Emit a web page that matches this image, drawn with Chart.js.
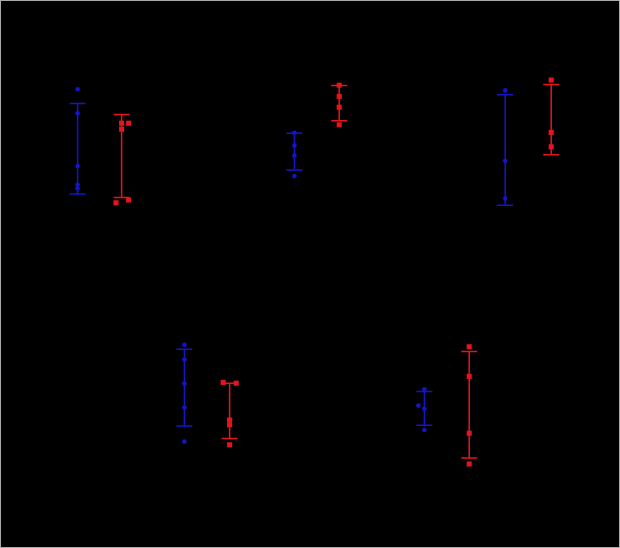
<!DOCTYPE html>
<html>
<head>
<meta charset="utf-8">
<script src="https://cdn.jsdelivr.net/npm/chart.js@4/dist/chart.umd.min.js"></script>
<style>
  html, body { margin: 0; padding: 0; background: #000; }
  #wrap { position: relative; width: 620px; height: 548px; background: #000; }
  canvas { display: block; }
</style>
</head>
<body>
<div id="wrap"><canvas id="c" width="620" height="548"></canvas></div>
<script>
// ---- data (arbitrary units) ----
const groups = ['G1', 'G2', 'G3', 'G4', 'G5'];
const seriesNames = ['Blue', 'Red'];

const blueValues = [
  [114.7, 108.7, 95.5, 90.8, 89.9],
  [103.8, 100.6, 98.1, 93.0],
  [114.4, 96.8, 87.4],
  [50.8, 47.1, 41.1, 35.1, 26.6],
  [39.7, 35.6, 34.8, 29.5]
];
const redValues = [
  [106.2, 106.2, 104.7, 86.3, 87.0],
  [115.7, 112.9, 110.2, 105.8],
  [117.0, 103.9, 100.3],
  [41.4, 41.2, 32.0, 30.8, 25.8],
  [50.3, 42.9, 28.7, 21.0]
];
const blueMean = [99.8, 99.1, 99.5, 40.1, 34.9];
const blueSD   = [11.3, 4.6, 13.8, 9.6, 4.2];
const redMean  = [98.0, 111.2, 107.1, 34.3, 35.8];
const redSD    = [10.4, 4.4, 8.8, 6.9, 13.3];

// ---- layout (x position of each group on the hidden linear x axis) ----
const blueX = [19.4, 73.6, 126.3, 46.1, 106.1];
const redX  = [30.4, 84.8, 137.8, 57.4, 117.3];
const blueJitter = [[0,0,0,0,0],[0,0,0,0],[0,0,0],[0,0,0,0,0],[0,-1.5,0,0]];
const redJitter  = [[0,1.75,0,-1.4,1.75],[0,0,0,0],[0,0,0],[-1.6,1.65,0,0,0],[0,0,0,0]];

const BLUE = 'rgb(20,20,205)';
const RED = 'rgb(230,20,30)';

function pts(vals, xs, jit) {
  const out = [];
  vals.forEach((arr, g) => arr.forEach((v, i) => out.push({x: xs[g] + jit[g][i], y: v})));
  return out;
}

const errorBars = {
  id: 'errorBars',
  beforeDatasetsDraw(chart) {
    const {ctx, scales: {x, y}} = chart;
    const draw = (xs, means, sds, color) => {
      ctx.save();
      ctx.strokeStyle = color;
      ctx.lineWidth = 1.5;
      xs.forEach((xv, g) => {
        const px = x.getPixelForValue(xv);
        const top = y.getPixelForValue(means[g] + sds[g]);
        const bot = y.getPixelForValue(means[g] - sds[g]);
        const w = 8;
        ctx.beginPath();
        ctx.moveTo(px, top); ctx.lineTo(px, bot);
        ctx.moveTo(px - w, top); ctx.lineTo(px + w, top);
        ctx.moveTo(px - w, bot); ctx.lineTo(px + w, bot);
        ctx.stroke();
      });
      ctx.restore();
    };
    draw(blueX, blueMean, blueSD, BLUE);
    draw(redX, redMean, redSD, RED);
  },
  afterDraw(chart) {
    const ctx = chart.ctx;
    ctx.save();
    ctx.strokeStyle = '#aaaaaa';
    ctx.lineWidth = 1;
    ctx.strokeRect(0.5, 0.5, chart.width - 1, chart.height - 1);
    ctx.restore();
  }
};

new Chart(document.getElementById('c'), {
  type: 'scatter',
  data: {
    datasets: [
      {label: seriesNames[0], data: pts(blueValues, blueX, blueJitter),
       pointStyle: 'circle', pointRadius: 2.3, backgroundColor: BLUE, borderColor: BLUE, borderWidth: 0},
      {label: seriesNames[1], data: pts(redValues, redX, redJitter),
       pointStyle: 'rect', pointRadius: 3.6, backgroundColor: RED, borderColor: RED, borderWidth: 0}
    ]
  },
  options: {
    responsive: false,
    animation: false,
    layout: {padding: 0, autoPadding: false},
    plugins: {legend: {display: false}, tooltip: {enabled: false}, title: {display: false}},
    scales: {
      x: {type: 'linear', display: false, min: 0, max: 155},
      y: {type: 'linear', display: false, min: 0, max: 137}
    }
  },
  plugins: [errorBars]
});
</script>
</body>
</html>
